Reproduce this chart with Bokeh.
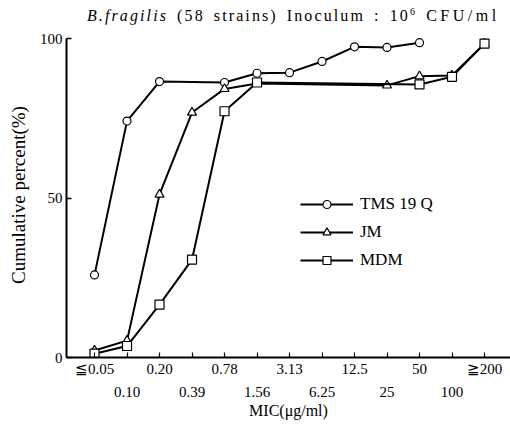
from bokeh.plotting import figure
from bokeh.models import Range1d, FixedTicker, LinearAxis, Legend, LegendItem, Div
from bokeh.layouts import column
from bokeh.embed import file_html
from bokeh.resources import INLINE

# ---- data ----
categories = ["≦0.05", "0.10", "0.20", "0.39", "0.78", "1.56", "3.13",
              "6.25", "12.5", "25", "50", "100", "≧200"]
tms_idx = [0, 1, 2, 4, 5, 6, 7, 8, 9, 10]
tms_val = [25.9, 74.1, 86.5, 86.2, 89.1, 89.3, 92.8, 97.4, 97.2, 98.7]
jm_idx = [0, 1, 2, 3, 4, 5, 9, 10, 11, 12]
jm_val = [2.2, 5.3, 51.1, 76.8, 84.2, 85.9, 85.3, 88.2, 88.4, 98.4]
mdm_idx = [0, 1, 2, 3, 4, 5, 10, 11, 12]
mdm_val = [1.2, 3.6, 16.6, 30.7, 77.2, 86.2, 85.6, 88.0, 98.4]
y_ticks = [0, 50, 100]
series_names = ["TMS 19 Q", "JM", "MDM"]

FONT = "Liberation Serif"
X0, XPX = -0.862, 32.5
Y_PX = 3.19
LEFT, TOP, BOTTOM, H = 66, 8, 69, 402

title = Div(
    text='<span style="font-style:italic">B.fragilis</span> (58 strains) '
         'Inoculum : 10<sup style="font-size:10px">6</sup> '
         '<span style="letter-spacing:3.5px">CFU/ml</span>',
    width=510, height=24, margin=0,
    styles={"font-family": FONT, "font-size": "16px", "color": "black",
            "padding-left": "87px", "white-space": "nowrap",
            "letter-spacing": "2.1px", "word-spacing": "3px",
            "line-height": "24px", "box-sizing": "border-box"})

p = figure(width=510, height=H,
           x_range=Range1d(X0, X0 + (510 - LEFT) / XPX),
           y_range=Range1d(0, (H - TOP - BOTTOM) / Y_PX),
           output_backend="svg", toolbar_location=None,
           min_border_left=LEFT, min_border_right=0, min_border_top=TOP,
           min_border_bottom=BOTTOM, x_axis_type=None, margin=0)
p.grid.visible = False
p.outline_line_color = None
p.background_fill_color = "white"

# y axis
ya = p.yaxis[0]
ya.ticker = FixedTicker(ticks=y_ticks)
ya.bounds = (0, 100)
ya.axis_line_width = 2
ya.axis_line_color = "black"
ya.major_tick_in = 5
ya.major_tick_out = 0
ya.major_tick_line_width = 1.5
ya.minor_tick_line_color = None
ya.major_label_text_font = FONT
ya.major_label_text_font_size = "15px"
ya.major_label_text_color = "black"
ya.major_label_standoff = 4
ya.axis_label = "Cumulative percent(%)"
ya.axis_label_text_font = FONT
ya.axis_label_text_font_size = "19px"
ya.axis_label_text_font_style = "normal"
ya.axis_label_text_color = "black"
ya.axis_label_standoff = 8

# x axis: two staggered rows of labels
xa1 = LinearAxis(ticker=FixedTicker(ticks=list(range(len(categories)))),
                 major_label_overrides={i: (c if i % 2 == 0 else "") for i, c in enumerate(categories)})
xa1.axis_line_width = 2
xa1.axis_line_color = "black"
xa1.major_tick_in = 5
xa1.major_tick_out = 0
xa1.major_tick_line_width = 1.2
xa1.minor_tick_line_color = None
xa1.major_label_text_font = FONT
xa1.major_label_text_font_size = "15px"
xa1.major_label_text_color = "black"
xa1.major_label_standoff = 3

odd = [i for i in range(len(categories)) if i % 2 == 1]
xa2 = LinearAxis(ticker=FixedTicker(ticks=odd),
                 major_label_overrides={i: categories[i] for i in odd})
xa2.axis_line_color = None
xa2.major_tick_line_color = None
xa2.minor_tick_line_color = None
xa2.major_label_text_font = FONT
xa2.major_label_text_font_size = "15px"
xa2.major_label_text_color = "black"
xa2.major_label_standoff = 1
xa2.axis_label = "MIC(μg/ml)"
xa2.axis_label_text_font = FONT
xa2.axis_label_text_font_size = "16px"
xa2.axis_label_text_font_style = "normal"
xa2.axis_label_text_color = "black"
xa2.axis_label_standoff = 2
p.add_layout(xa1, "below")
p.add_layout(xa2, "below")

# series
items = []
for name, xs, ys, mk, sz in [(series_names[0], tms_idx, tms_val, "circle", 8),
                             (series_names[1], jm_idx, jm_val, "triangle", 9),
                             (series_names[2], mdm_idx, mdm_val, "square", 9)]:
    ln = p.line(xs, ys, line_color="black", line_width=2)
    sc = p.scatter(xs, ys, marker=mk, size=sz, fill_color="white",
                   line_color="black", line_width=1.2)
    items.append(LegendItem(label=name, renderers=[ln, sc]))

legend = Legend(items=items, location=(234, 87), padding=0, margin=0,
                spacing=8, glyph_width=53, glyph_height=20, label_height=20,
                label_standoff=7, label_text_font=FONT, label_text_font_size="17px",
                label_text_color="black", border_line_color=None,
                background_fill_alpha=0)
p.add_layout(legend, "center")

layout = column(title, p, spacing=0)
open("out.html", "w").write(file_html(layout, INLINE))
